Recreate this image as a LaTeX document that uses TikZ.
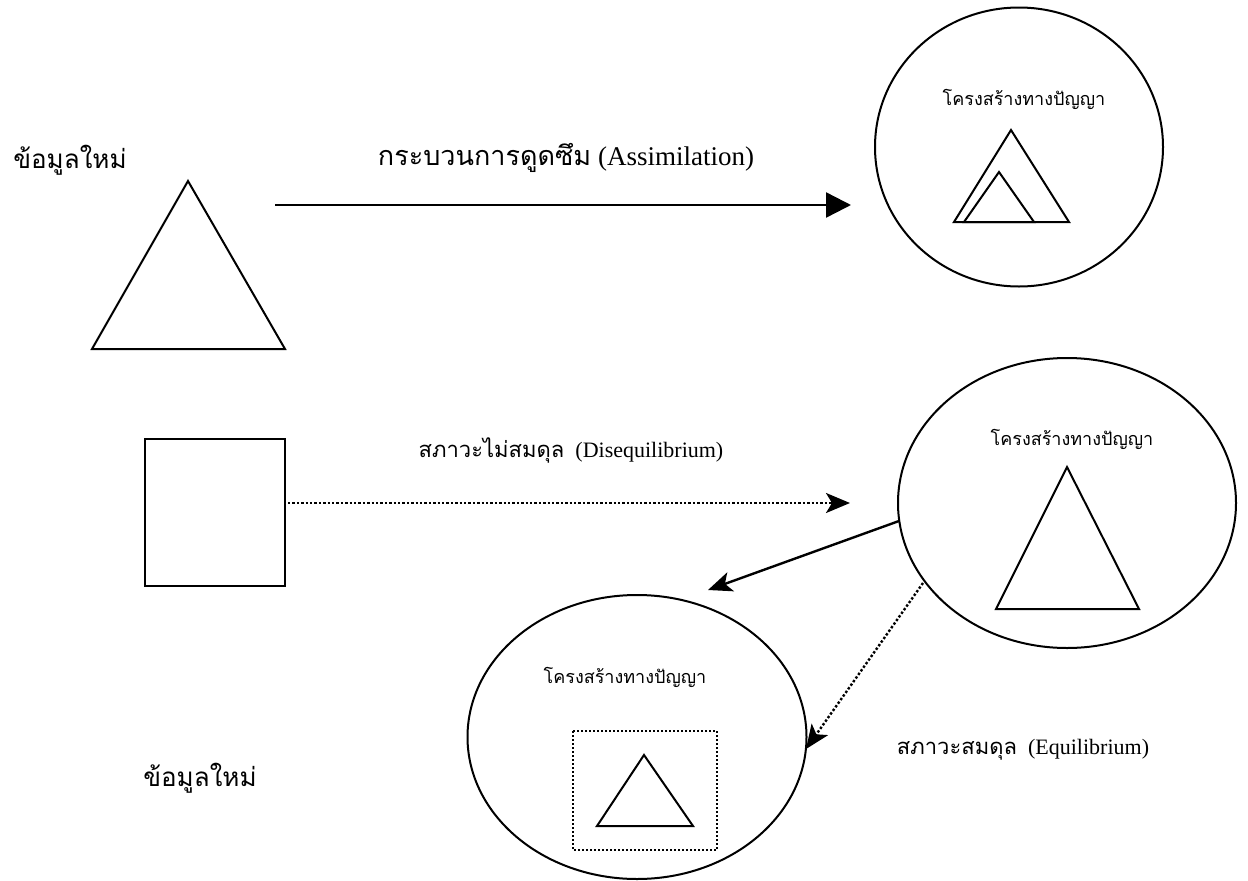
\documentclass[tikz,border=0pt]{standalone}
\usepackage{fontspec}
\setmainfont{Liberation Serif}
\newfontfamily\thai[Script=Thai]{Loma}
\usetikzlibrary{arrows.meta,shapes.geometric}
\tikzset{
  shp/.style={draw, line width=2pt},
  solidarrow/.style={line width=2.4pt, -{Stealth[length=24pt,width=20pt,inset=6pt]}},
  tri/.style={line width=2.4pt, -{Triangle[length=25pt,width=25pt]}},
  dotarrow/.style={line width=2.4pt, dotted, -{Stealth[length=24pt,width=20pt,inset=6pt,sep=0pt]}},
  big/.style={font=\fontsize{26}{30}\selectfont},
  assimfont/.style={font=\fontsize{27}{31}\selectfont},
  mid/.style={font=\fontsize{22}{26}\selectfont},
  small/.style={font=\fontsize{18}{22}\selectfont},
}
\begin{document}
\begin{tikzpicture}[x=1pt,y=-1pt]
\useasboundingbox (0,0) rectangle (1248,881);
% top-left
\node[big] (info1) at (70,160) {\thai ข้อมูลใหม่};
\draw[shp] (188,181) coordinate (t1a) -- (92,349) coordinate (t1l) -- (285,349) coordinate (t1r) -- cycle;
\node[assimfont] (assim) at (566,158) {{\thai กระบวนการดูดซึม} (Assimilation)};
% top-right circle
\node[shp, ellipse, minimum width=288pt, minimum height=279pt, inner sep=0] (c1) at (1019,147) {};
\node[small] (c1t) at (1024,99) {\thai โครงสร้างทางปัญญา};
\draw[shp] (1011,130) -- (954,222) -- (1069,222) -- cycle;
\draw[shp] (999,172) -- (964,222) -- (1034,222) -- cycle;
\coordinate (a1s) at (275,205);
\coordinate (a1e) at (851,205);
\draw[tri] (a1s) -- (a1e);
% square
\node[shp, minimum width=140pt, minimum height=147pt, inner sep=0] (sq) at (215,512) {};
\node[mid] (diseq) at (571,450) {{\thai สภาวะไม่สมดุล}\ \ (Disequilibrium)};
\coordinate (a2s) at (288,503);
\coordinate (a2e) at (850,503);
\draw[dotarrow] (a2s) -- (a2e);
% right ellipse
\node[shp, ellipse, minimum width=338pt, minimum height=290pt, inner sep=0] (e2) at (1067,503) {};
\node[small] (e2t) at (1072,439) {\thai โครงสร้างทางปัญญา};
\draw[shp] (1067,467) -- (996,609) -- (1139,609) -- cycle;
% bottom ellipse
\node[shp, ellipse, minimum width=339pt, minimum height=284pt, inner sep=0] (e3) at (637,737) {};
\node[small] (e3t) at (625,677) {\thai โครงสร้างทางปัญญา};
\draw[line width=2pt, dotted] (573,731) rectangle (717,850);
\draw[shp] (644,755) -- (597,826) -- (693,826) -- cycle;
% connectors
\coordinate (a3s) at (899,521);
\coordinate (a3e) at (708,590);
\draw[solidarrow] (a3s) -- (a3e);
\coordinate (a4s) at (923,583);
\coordinate (a4e) at (806,749);
\draw[dotarrow] (a4s) -- (a4e);
\node[mid] (equi) at (1023,750) {{\thai สภาวะสมดุล}\ \ (Equilibrium)};
\node[big] (info2) at (200,778) {\thai ข้อมูลใหม่};
\end{tikzpicture}
\end{document}
